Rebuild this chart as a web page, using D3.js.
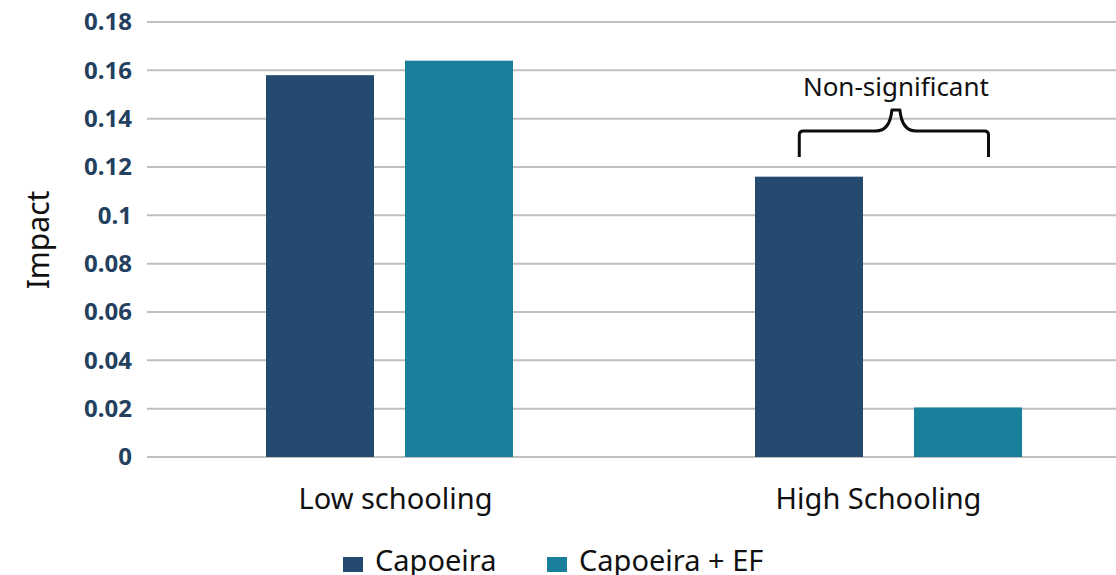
<!DOCTYPE html>
<html>
<head>
<meta charset="utf-8">
<script src="https://cdn.jsdelivr.net/npm/d3@7"></script>
<style>
  html, body { margin: 0; padding: 0; background: #fff; }
  svg { display: block; font-family: "Noto Sans", "Open Sans", sans-serif; }
</style>
</head>
<body>
<svg id="chart" width="1116" height="575"></svg>
<script>
// Impact by schooling level and intervention
const categories = ["Low schooling", "High Schooling"];
const seriesNames = ["Capoeira", "Capoeira + EF"];
const capoeira = [0.158, 0.116];
const capoeiraEF = [0.164, 0.0205];
const yTicks = [0, 0.02, 0.04, 0.06, 0.08, 0.1, 0.12, 0.14, 0.16, 0.18];
const yTickLabels = ["0", "0.02", "0.04", "0.06", "0.08", "0.1", "0.12", "0.14", "0.16", "0.18"];
const annotationText = "Non-significant";

const colors = ["#244a70", "#1a7f9b"];
const svg = d3.select("#chart");

const x = d3.scaleBand().domain(categories).range([154, 1120]);
// inner layout of the two bars inside each category band
const innerLayout = [
  { range: [112, 359], pad: 0.223 },
  { range: [118, 385], pad: 0.3208 }
];
const inner = innerLayout.map(l => d3.scaleBand().domain(seriesNames).range(l.range).paddingInner(l.pad));
const y = d3.scaleLinear().domain([0, 0.18]).range([457, 22]);

// gridlines
svg.append("g").selectAll("line").data(yTicks).join("line")
  .attr("x1", 147).attr("x2", 1116)
  .attr("y1", d => y(d)).attr("y2", d => y(d))
  .attr("stroke", "#bfbfbf").attr("stroke-width", 2);

// y tick labels
const yAxis = d3.axisLeft(y).tickValues(yTicks).tickFormat((d, i) => yTickLabels[i]).tickSize(0).tickPadding(0);
const ya = svg.append("g").attr("transform", "translate(132,0)").call(yAxis);
ya.select(".domain").remove();
ya.selectAll("text")
  .attr("font-family", "'Noto Sans', sans-serif")
  .attr("font-size", 24).attr("font-weight", 700).attr("fill", "#23405f");

// y axis title
svg.append("text").attr("transform", "translate(49,240) rotate(-90)")
  .attr("text-anchor", "middle").attr("font-size", 30).attr("fill", "#111")
  .text("Impact");

// bars
const rows = categories.map((c, i) => ({ cat: c, i, vals: [capoeira[i], capoeiraEF[i]] }));
const groups = svg.append("g").selectAll("g").data(rows).join("g")
  .attr("transform", d => `translate(${x(d.cat)},0)`);
groups.selectAll("rect").data(d => d.vals.map((v, j) => ({ s: seriesNames[j], v, j, g: d.i })))
  .join("rect")
  .attr("x", d => inner[d.g](d.s)).attr("width", d => inner[d.g].bandwidth())
  .attr("y", d => y(d.v)).attr("height", d => y(0) - y(d.v))
  .attr("fill", d => colors[d.j]);

// category labels
const xAxis = d3.axisBottom(x).tickSize(0).tickPadding(0);
const xa = svg.append("g").attr("transform", "translate(0,509)").call(xAxis);
xa.select(".domain").remove();
xa.selectAll("text").attr("dy", 0)
  .attr("font-family", "'Noto Sans', sans-serif")
  .attr("font-size", 29).attr("fill", "#111");

// annotation brace spanning the high schooling pair
const hi = categories[1];
const bx1 = x(hi) + inner[1](seriesNames[0]) + inner[1].bandwidth() * 0.41;
const bx2 = x(hi) + inner[1](seriesNames[1]) + inner[1].bandwidth() * 0.69;
const bmid = (bx1 + bx2) / 2 + 2;
const yBot = 157, yTop = 131, yPeak = 110;
const brace = `M${bx1},${yBot} L${bx1},${yTop + 4} Q${bx1},${yTop} ${bx1 + 4},${yTop}
  L${bmid - 20},${yTop} Q${bmid - 6},${yTop} ${bmid - 4},${yPeak} L${bmid + 4},${yPeak}
  Q${bmid + 6},${yTop} ${bmid + 20},${yTop} L${bx2 - 4},${yTop} Q${bx2},${yTop} ${bx2},${yTop + 4} L${bx2},${yBot}`;
svg.append("path").attr("d", brace).attr("fill", "none")
  .attr("stroke", "#0d0d0d").attr("stroke-width", 3).attr("stroke-linejoin", "round");
svg.append("text").attr("x", bmid).attr("y", 96)
  .attr("text-anchor", "middle").attr("font-size", 26).attr("fill", "#111")
  .text(annotationText);

// legend
const legendX = [343, 547];
const lg = svg.append("g").selectAll("g").data(seriesNames).join("g")
  .attr("transform", (d, i) => `translate(${legendX[i]},0)`);
lg.append("rect").attr("x", 0).attr("y", 557).attr("width", 20).attr("height", 15)
  .attr("fill", (d, i) => colors[i]);
lg.append("text").attr("x", 32).attr("y", 571)
  .attr("font-size", 29).attr("fill", "#111").text(d => d);
</script>
</body>
</html>
